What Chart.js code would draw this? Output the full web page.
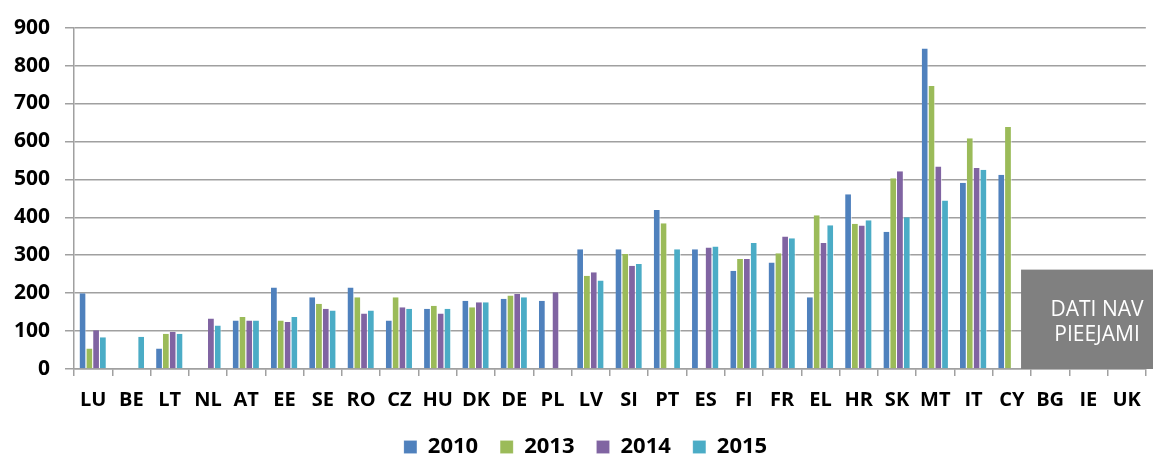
<!DOCTYPE html>
<html>
<head>
<meta charset="utf-8">
<script src="https://cdn.jsdelivr.net/npm/chart.js@4/dist/chart.umd.min.js"></script>
<style>
  html, body { margin: 0; padding: 0; background: #fff; }
  #wrap { width: 1153px; height: 458px; }
</style>
</head>
<body>
<div id="wrap"><canvas id="chart"></canvas></div>
<script>
// Countries (category axis)
const countries = ['LU', 'BE', 'LT', 'NL', 'AT', 'EE', 'SE', 'RO', 'CZ', 'HU', 'DK', 'DE', 'PL', 'LV',
  'SI', 'PT', 'ES', 'FI', 'FR', 'EL', 'HR', 'SK', 'MT', 'IT', 'CY', 'BG', 'IE', 'UK'];

// Values per year (null = no bar)
const values2010 = [200, null, 54, null, 128, 215, 189, 215, 128, 159, 180, 185, 180, 316,
  316, 419, 316, 259, 281, 189, 461, 362, 845, 491, 512, null, null, null];
const values2013 = [54, null, 93, null, 137, 128, 172, 189, 189, 167, 163, 194, null, 246,
  303, 384, null, 290, 305, 405, 383, 503, 746, 608, 638, null, null, null];
const values2014 = [102, null, 98, 133, 128, 124, 159, 146, 163, 146, 176, 198, 202, 255,
  272, null, 320, 290, 349, 332, 378, 521, 534, 530, null, null, null, null];
const values2015 = [84, 85, 93, 115, 128, 137, 154, 154, 159, 159, 176, 189, null, 233,
  277, 316, 323, 332, 345, 379, 392, 400, 444, 525, null, null, null, null];

const yTicks = [0, 100, 200, 300, 400, 500, 600, 700, 800, 900];
const noDataLines = ['DATI NAV', 'PIEEJAMI'];

const FONT = '"Open Sans", sans-serif';

// Gray "no data" box over the last countries
const noDataBox = {
  id: 'noDataBox',
  afterDatasetsDraw(chart) {
    const ctx = chart.ctx;
    const x = chart.scales.x;
    const y = chart.scales.y;
    const step = x.getPixelForValue(1) - x.getPixelForValue(0);
    const left = x.getPixelForValue(24) + step * 0.24;
    const top = y.getPixelForValue(262);
    const bottom = y.getPixelForValue(0);
    ctx.save();
    ctx.fillStyle = '#808080';
    ctx.fillRect(left, top, chart.width - left, bottom - top);
    ctx.fillStyle = '#ffffff';
    ctx.font = '21px ' + FONT;
    ctx.textAlign = 'center';
    ctx.textBaseline = 'middle';
    const cx = left + 76;
    ctx.fillText(noDataLines[0], cx, top + 40);
    ctx.fillText(noDataLines[1], cx, top + 65);
    ctx.restore();
  }
};

// Legend sits tight to the bottom edge: keep the wide item spacing but cap its height,
// and nudge it a bit to the right like in the original
const legendFit = {
  id: 'legendFit',
  beforeLayout(chart) {
    const lg = chart.legend;
    if (lg && !lg._patched) {
      const orig = lg.fit.bind(lg);
      lg.fit = function() {
        orig();
        this.height = 44;
      };
      lg._patched = true;
    }
  },
  afterLayout(chart) {
    const lg = chart.legend;
    if (lg) {
      lg.left += 12;
      lg.right += 12;
    }
  }
};

const makeSet = (label, data, color) => ({
  label: label,
  data: data,
  backgroundColor: color,
  borderColor: 'rgba(255,255,255,0.6)',
  borderWidth: { top: 0, left: 0, right: 1, bottom: 0 },
  categoryPercentage: 0.71,
  barPercentage: 1.0
});

new Chart(document.getElementById('chart'), {
  type: 'bar',
  data: {
    labels: countries,
    datasets: [
      makeSet('2010', values2010, '#4F81BD'),
      makeSet('2013', values2013, '#9BBB59'),
      makeSet('2014', values2014, '#8064A2'),
      makeSet('2015', values2015, '#4BACC6')
    ]
  },
  options: {
    responsive: true,
    maintainAspectRatio: false,
    animation: false,
    layout: { padding: { top: 11, right: 6, left: 0, bottom: 0 } },
    plugins: {
      tooltip: { enabled: false },
      legend: {
        position: 'bottom',
        labels: {
          color: '#000',
          font: { family: FONT, size: 22, weight: 'bold' },
          boxWidth: 13,
          boxHeight: 13,
          padding: 22
        }
      }
    },
    scales: {
      x: {
        offset: true,
        afterFit(scale) { scale.height = 45; },
        grid: {
          offset: true,
          drawOnChartArea: false,
          drawTicks: true,
          tickLength: 7,
          color: '#a0a0a0',
          lineWidth: 1.5
        },
        border: { display: true, color: '#a0a0a0', width: 1.5 },
        ticks: {
          color: '#000',
          padding: 12,
          autoSkip: false,
          maxRotation: 0,
          font: { family: FONT, size: 20, weight: 'bold' }
        }
      },
      y: {
        min: 0,
        max: 900,
        afterFit(scale) { scale.width = 74; },
        afterBuildTicks(scale) { scale.ticks = yTicks.map(v => ({ value: v })); },
        grid: {
          color: '#a0a0a0',
          lineWidth: 1.5,
          tickLength: 9
        },
        border: { display: true, color: '#a0a0a0', width: 1.5 },
        ticks: {
          color: '#000',
          padding: 15,
          font: { family: FONT, size: 21, weight: 'bold' }
        }
      }
    }
  },
  plugins: [noDataBox, legendFit]
});
</script>
</body>
</html>
